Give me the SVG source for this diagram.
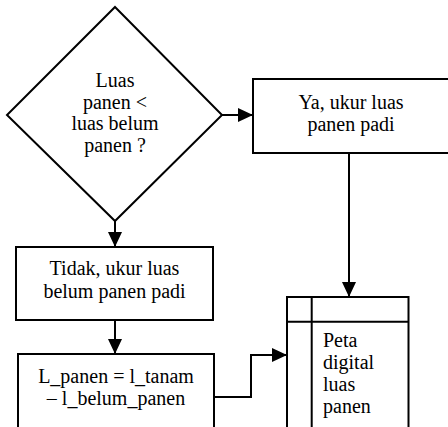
<svg xmlns="http://www.w3.org/2000/svg" width="448" height="427" viewBox="0 0 448 427">
<defs>
<marker id="arr" markerWidth="15" markerHeight="14" refX="15" refY="7" orient="auto" markerUnits="userSpaceOnUse">
<path d="M0,0 L15,7 L0,14 z" fill="#000"/>
</marker>
<style>
.s{fill:#fff;stroke:#000;stroke-width:2}
.c{fill:none;stroke:#000;stroke-width:2}
.t{font-family:'Liberation Serif','Times New Roman','DejaVu Serif',serif;font-size:20px;fill:#000}
.m{text-anchor:middle}
</style>
</defs>
<rect width="448" height="427" fill="#fff"/>
<g id="connectors">
<path class="c" d="M222,115 H253" marker-end="url(#arr)"/>
<path class="c" d="M115,221 V247" marker-end="url(#arr)"/>
<path class="c" d="M115,320 V354" marker-end="url(#arr)"/>
<path class="c" d="M349,153 V297" marker-end="url(#arr)"/>
<path class="c" d="M214,397 H251 V355 H287" marker-end="url(#arr)"/>
</g>
<g id="decision" class="t" font-family="Liberation Serif, serif">
<path class="s" d="M115,7 L222,115 L115,221 L7,115 z"/>
<text class="m" x="115" y="87">Luas</text>
<text class="m" x="115" y="108.5">panen &lt;</text>
<text class="m" x="115" y="130">luas belum</text>
<text class="m" x="115" y="151.5">panen ?</text>
</g>
<g id="ya" class="t" font-family="Liberation Serif, serif">
<rect class="s" x="253" y="79" width="200" height="74"/>
<text class="m" x="351" y="109">Ya, ukur luas</text>
<text class="m" x="351" y="131">panen padi</text>
</g>
<g id="tidak" class="t" font-family="Liberation Serif, serif">
<rect class="s" x="16" y="247" width="197" height="73"/>
<text class="m" x="114.5" y="275">Tidak, ukur luas</text>
<text class="m" x="114.5" y="298">belum panen padi</text>
</g>
<g id="hitung" class="t" font-family="Liberation Serif, serif">
<rect class="s" x="18" y="354" width="196" height="80"/>
<text class="m" x="116" y="383">L_panen = l_tanam</text>
<text class="m" x="116" y="405">– l_belum_panen</text>
</g>
<g id="peta" class="t" font-family="Liberation Serif, serif">
<rect class="s" x="287" y="297" width="121.5" height="140"/>
<path class="c" d="M287,321.7 H408.5 M311.7,297 V437"/>
<text x="323" y="347">Peta</text>
<text x="323" y="369">digital</text>
<text x="323" y="391">luas</text>
<text x="323" y="413">panen</text>
</g>
</svg>
